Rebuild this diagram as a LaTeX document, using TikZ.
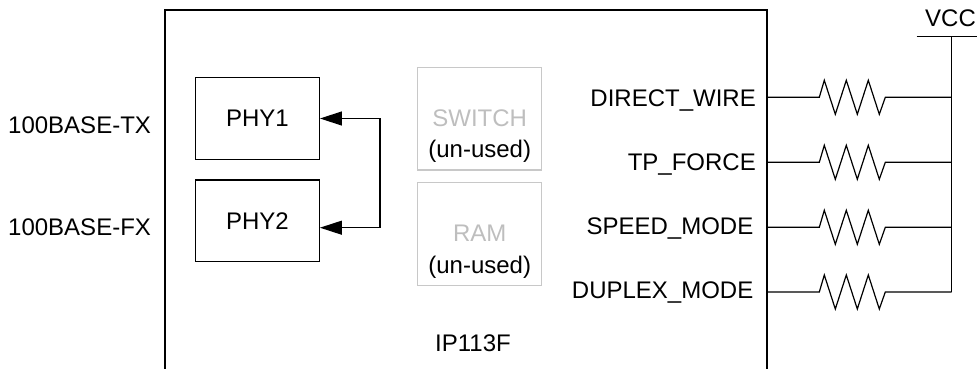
\documentclass[tikz,border=0pt]{standalone}
\usepackage{fontspec}
\setmainfont{Liberation Sans}
\usetikzlibrary{arrows.meta}
\definecolor{unused}{HTML}{C8C8C8}
\definecolor{unusedtxt}{HTML}{BEBEBE}
\begin{document}
\begin{tikzpicture}[x=1pt,y=-1pt,
  txt/.style={font=\fontsize{24}{28}\selectfont, inner sep=0pt},
  blk/.style={draw=black, line width=1.3pt, rectangle, inner sep=0pt},
  grayblk/.style={draw=unused, line width=1.3pt, rectangle, inner sep=0pt},
  wire/.style={line width=1.2pt, black},
  arr/.style={line width=1.2pt, {Triangle[length=22pt,width=14pt]}-{Triangle[length=22pt,width=14pt]}}]
\useasboundingbox (0,0) rectangle (977,369);
% chip outline (open at bottom)
\coordinate (cbl) at (165,375);
\coordinate (ctl) at (165,10);
\coordinate (ctr) at (767,10);
\coordinate (cbr) at (767,375);
\draw[line width=1.3pt] (cbl) -- (ctl) -- (ctr) -- (cbr);
% left labels
\node[txt, anchor=base west] (tx) at (8,133.5) {100BASE-TX};
\node[txt, anchor=base west] (fx) at (8,235) {100BASE-FX};
% PHY blocks
\node[blk, minimum width=123.6pt, minimum height=81.6pt, txt] (phy1) at (257.5,118.5) {PHY1};
\node[blk, minimum width=123.6pt, minimum height=81.6pt, txt] (phy2) at (257.5,220.8) {PHY2};
\coordinate (bend1) at (380,118.5);
\coordinate (bend2) at (380,227.7);
\draw[arr] (phy1.east) -- (bend1) -- (bend2) -- (phy2.east |- bend2);
% unused blocks
\node[grayblk, minimum width=124pt, minimum height=102.3pt] (sw) at (479.7,118.8) {};
\node[grayblk, minimum width=124pt, minimum height=103pt] (ram) at (479.7,234.2) {};
\node[txt, anchor=base, text=unusedtxt] (swt) at (sw.center |- 0,126) {SWITCH};
\node[txt, anchor=base] (swu) at (sw.center |- 0,157.5) {(un-used)};
\node[txt, anchor=base, text=unusedtxt] (ramt) at (ram.center |- 0,241.7) {RAM};
\node[txt, anchor=base] (ramu) at (ram.center |- 0,273) {(un-used)};
\node[txt, anchor=base] (chip) at (473,351.7) {IP113F};
% pin labels
\node[txt, anchor=base east] (l1) at (756,106.7) {DIRECT\_WIRE};
\node[txt, anchor=base east] (l2) at (756,170) {TP\_FORCE};
\node[txt, anchor=base east] (l3) at (753.5,234) {SPEED\_MODE};
\node[txt, anchor=base east] (l4) at (753.5,298.5) {DUPLEX\_MODE};
% pins and resistors
\foreach \i/\y in {1/97.3,2/162.3,3/227.3,4/292}{
  \coordinate (p\i) at (767,\y);
  \coordinate (v\i) at (951.7,\y);
  \draw[wire, line join=miter] (p\i) -- ++(52.3,0) -- ++(5,-17) -- ++(11,34) -- ++(11,-34) -- ++(11,34) -- ++(11,-34) -- ++(11,34) -- ++(6,-17) -- (v\i);
}
% VCC rail
\coordinate (vtop) at (951.7,36.7);
\coordinate (barl) at (916.7,36.7);
\coordinate (barr) at (980,36.7);
\draw[wire] (vtop) -- (v4);
\draw[wire] (barl) -- (barr);
\node[txt, anchor=base west] (vcc) at (925,26.7) {VCC};
\end{tikzpicture}
\end{document}
